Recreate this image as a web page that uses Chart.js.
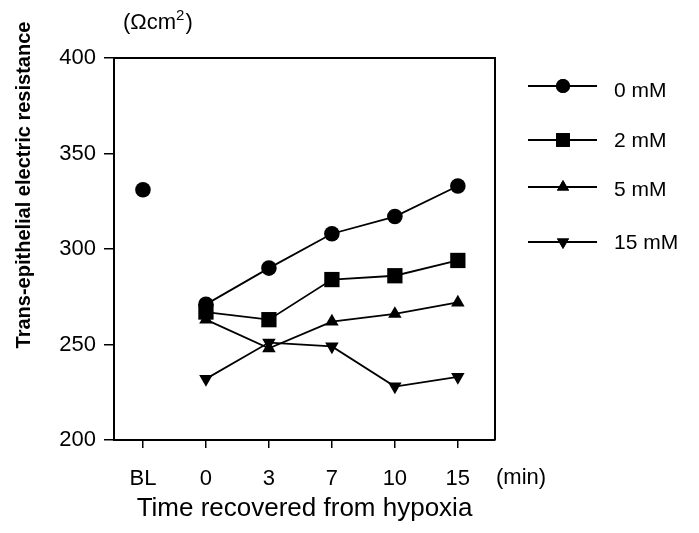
<!DOCTYPE html>
<html>
<head>
<meta charset="utf-8">
<script src="https://cdn.jsdelivr.net/npm/chart.js@4/dist/chart.umd.min.js"></script>
<style>
  html, body { margin: 0; padding: 0; background: #fff; }
  #wrap { width: 699px; height: 533px; position: relative; }
</style>
</head>
<body>
<div id="wrap"><canvas id="chartTer"></canvas></div>
<script>
const timeLabels = ['BL', '0', '3', '7', '10', '15'];
const seriesNames = ['0 mM', '2 mM', '5 mM', '15 mM'];
const baseline0 = [331];
const values0 = [271, 290, 308, 317, 333];
const values2 = [267, 263, 284, 286, 294];
const values5 = [263, 248, 262, 266, 272];
const values15 = [232, 251, 249, 228, 233];
const yTicks = [200, 250, 300, 350, 400];

const FONT = 'Arial, "Liberation Sans", sans-serif';
const markers = [
  { pointStyle: 'circle', radius: 7.8, rotation: 0 },
  { pointStyle: 'rect', radius: 10.8, rotation: 0 },
  { pointStyle: 'triangle', radius: 7.8, rotation: 0 },
  { pointStyle: 'triangle', radius: 7.8, rotation: 180 },
];

const toPoints = (vals) => vals.map((y, i) => ({ x: i + 1, y }));

function lineSet(label, vals, m) {
  return {
    label,
    data: toPoints(vals),
    borderColor: '#000',
    backgroundColor: '#000',
    borderWidth: 1.8,
    pointStyle: m.pointStyle,
    pointRadius: m.radius,
    pointRotation: m.rotation,
    pointBorderWidth: 0,
    tension: 0,
  };
}

const frame = {
  id: 'frame',
  afterDraw(chart) {
    const { ctx, chartArea: a } = chart;
    ctx.save();
    ctx.strokeStyle = '#000';
    ctx.fillStyle = '#000';
    ctx.lineWidth = 2;
    ctx.beginPath();
    ctx.moveTo(a.left, a.top);
    ctx.lineTo(a.right, a.top);
    ctx.lineTo(a.right, a.bottom);
    ctx.stroke();

    // y axis title
    ctx.save();
    ctx.translate(24, 185);
    ctx.rotate(-Math.PI / 2);
    ctx.font = 'bold 20px ' + FONT;
    ctx.textAlign = 'center';
    ctx.textBaseline = 'middle';
    ctx.fillText('Trans-epithelial electric resistance', 0, 0);
    ctx.restore();

    ctx.textBaseline = 'middle';
    ctx.textAlign = 'left';
    ctx.font = '22px ' + FONT;
    ctx.fillText('(min)', 496, 478);

    // unit
    ctx.fillText('(\u03A9cm', 123, 23);
    const w = ctx.measureText('(\u03A9cm').width;
    ctx.font = '15px ' + FONT;
    ctx.fillText('2', 123 + w, 16);
    const w2 = ctx.measureText('2').width;
    ctx.font = '22px ' + FONT;
    ctx.fillText(')', 123 + w + w2 + 1, 23);

    // legend
    const lineRows = [86, 140, 187, 242];
    const textRows = [91, 141, 190, 243];
    seriesNames.forEach((name, i) => {
      const y = lineRows[i];
      ctx.lineWidth = 1.8;
      ctx.beginPath();
      ctx.moveTo(528, y);
      ctx.lineTo(597, y);
      ctx.stroke();
      const m = markers[i];
      Chart.helpers.drawPoint(ctx, { pointStyle: m.pointStyle, radius: m.radius * 0.9, rotation: m.rotation, borderWidth: 0 }, 563, y);
      ctx.fill();
      ctx.font = '21px ' + FONT;
      ctx.fillText(name, 614, textRows[i]);
    });
    ctx.restore();
  },
};

new Chart(document.getElementById('chartTer'), {
  type: 'line',
  data: {
    datasets: [
      {
        label: 'BL',
        data: baseline0.map((y) => ({ x: 0, y })),
        showLine: false,
        backgroundColor: '#000',
        borderColor: '#000',
        pointStyle: 'circle',
        pointRadius: 7.8,
        pointBorderWidth: 0,
      },
      lineSet(seriesNames[0], values0, markers[0]),
      lineSet(seriesNames[1], values2, markers[1]),
      lineSet(seriesNames[2], values5, markers[2]),
      lineSet(seriesNames[3], values15, markers[3]),
    ],
  },
  options: {
    responsive: true,
    maintainAspectRatio: false,
    animation: false,
    layout: { padding: { left: 0, right: 204, top: 58, bottom: 0 } },
    plugins: { legend: { display: false }, tooltip: { enabled: false } },
    scales: {
      x: {
        type: 'linear',
        min: -0.46,
        max: 5.59,
        afterBuildTicks: (scale) => { scale.ticks = timeLabels.map((_, i) => ({ value: i })); },
        afterFit: (scale) => { scale.height = 93; },
        border: { display: true, color: '#000', width: 2 },
        grid: { drawOnChartArea: false, drawTicks: true, tickLength: 8, color: '#000', lineWidth: 1.5 },
        ticks: {
          color: '#000',
          font: { family: FONT, size: 22 },
          padding: 18,
          maxRotation: 0,
          callback: (v) => timeLabels[v],
        },
        title: {
          display: true,
          text: 'Time recovered from hypoxia',
          color: '#000',
          font: { family: FONT, size: 26 },
          padding: { top: 0, bottom: 9 },
        },
      },
      y: {
        min: 200,
        max: 400,
        afterBuildTicks: (scale) => { scale.ticks = yTicks.map((v) => ({ value: v })); },
        afterFit: (scale) => { scale.width = 114; },
        border: { display: true, color: '#000', width: 2 },
        grid: { drawOnChartArea: false, drawTicks: true, tickLength: 10, color: '#000', lineWidth: 1.5 },
        ticks: {
          color: '#000',
          font: { family: FONT, size: 22 },
          padding: 8,
        },
      },
    },
  },
  plugins: [frame],
});
</script>
</body>
</html>
